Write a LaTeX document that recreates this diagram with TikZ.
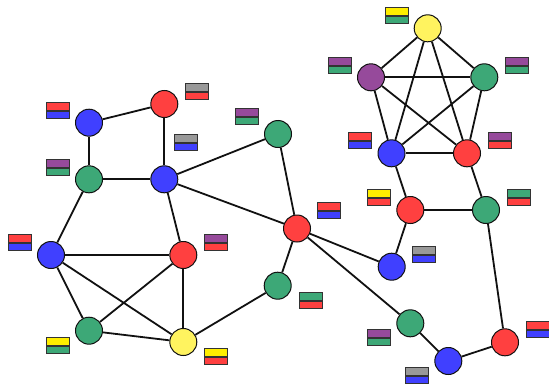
\documentclass[tikz,border=0pt]{standalone}
\definecolor{cblue}{HTML}{4040FF}
\definecolor{cred}{HTML}{FF4040}
\definecolor{cgreen}{HTML}{3DA877}
\definecolor{cyellow}{HTML}{FFF35F}
\definecolor{cpurple}{HTML}{964A9B}
\definecolor{lyellow}{HTML}{FFEE00}
\definecolor{cgray}{HTML}{999999}
\definecolor{edge}{HTML}{111111}
\tikzset{
  vert/.style={circle,draw=edge,line width=1pt,minimum size=27pt,inner sep=0pt,fill=#1},
  lnk/.style={draw=edge,line width=1.8pt},
  bar/.style={rectangle,draw=black!80,line width=0.9pt,minimum width=22.5pt,minimum height=7.6pt,inner sep=0pt,fill=#1,anchor=north west}
}
\newcommand{\colortag}[5]{%
  \node[bar=#4] (#1t) at (#2,#3) {};
  \node[bar=#5,anchor=north west] (#1b) at (#1t.south west) {};
}
\begin{document}
\begin{tikzpicture}[x=1pt,y=-1pt]
\useasboundingbox (0,0) rectangle (549,383);
% vertices
\node[vert=cblue]   (A) at (89,122.7) {};
\node[vert=cred]    (B) at (164.3,104) {};
\node[vert=cgreen]  (C) at (89,179.3) {};
\node[vert=cblue]   (D) at (164.3,179.3) {};
\node[vert=cblue]   (E) at (51,255) {};
\node[vert=cred]    (F) at (183.3,255) {};
\node[vert=cgreen]  (G) at (89,330.7) {};
\node[vert=cyellow] (H) at (183.3,342) {};
\node[vert=cgreen]  (I) at (278,134) {};
\node[vert=cred]    (J) at (297,228.5) {};
\node[vert=cblue]   (K) at (391.5,153.3) {};
\node[vert=cred]    (L) at (410.3,210) {};
\node[vert=cyellow] (M) at (427.7,28.3) {};
\node[vert=cpurple] (N) at (371,77.3) {};
\node[vert=cgreen]  (O) at (484.3,77.3) {};
\node[vert=cred]    (P) at (467,153.3) {};
\node[vert=cgreen]  (Q) at (486,210) {};
\node[vert=cblue]   (R) at (391.7,266.7) {};
\node[vert=cgreen]  (S) at (410.3,323.3) {};
\node[vert=cblue]   (T) at (448.3,361) {};
\node[vert=cred]    (U) at (505,342.3) {};
\node[vert=cgreen]  (V) at (277.7,285.7) {};
% edges
\foreach \a/\b in {A/B,A/C,B/D,C/D,C/E,D/F,D/I,D/J,E/F,E/G,E/H,F/G,F/H,G/H,H/V,V/J,I/J,J/R,J/S,R/L,L/K,L/Q,Q/P,Q/U,S/T,T/U,M/N,M/O,M/K,M/P,N/O,N/K,N/P,O/K,O/P,K/P}
  \draw[lnk] (\a) -- (\b);
% labels
\colortag{A}{46}{102}{cred}{cblue}
\colortag{B}{185}{83}{cgray}{cred}
\colortag{C}{46}{159}{cpurple}{cgreen}
\colortag{D}{174}{134}{cgray}{cblue}
\colortag{E}{8}{234}{cred}{cblue}
\colortag{F}{204}{234}{cpurple}{cred}
\colortag{G}{46}{337}{lyellow}{cgreen}
\colortag{H}{204}{348}{lyellow}{cred}
\colortag{I}{235}{108}{cpurple}{cgreen}
\colortag{J}{317}{202}{cred}{cblue}
\colortag{K}{348}{132}{cred}{cblue}
\colortag{L}{367}{189}{lyellow}{cred}
\colortag{M}{385}{7}{lyellow}{cgreen}
\colortag{N}{328}{57}{cpurple}{cgreen}
\colortag{O}{505}{57}{cpurple}{cgreen}
\colortag{P}{488}{132}{cpurple}{cred}
\colortag{Q}{507}{189}{cgreen}{cred}
\colortag{R}{412}{246}{cgray}{cblue}
\colortag{S}{367}{329}{cpurple}{cgreen}
\colortag{T}{405}{367}{cgray}{cblue}
\colortag{U}{526}{321}{cred}{cblue}
\colortag{V}{299}{292}{cgreen}{cred}
\end{tikzpicture}
\end{document}
